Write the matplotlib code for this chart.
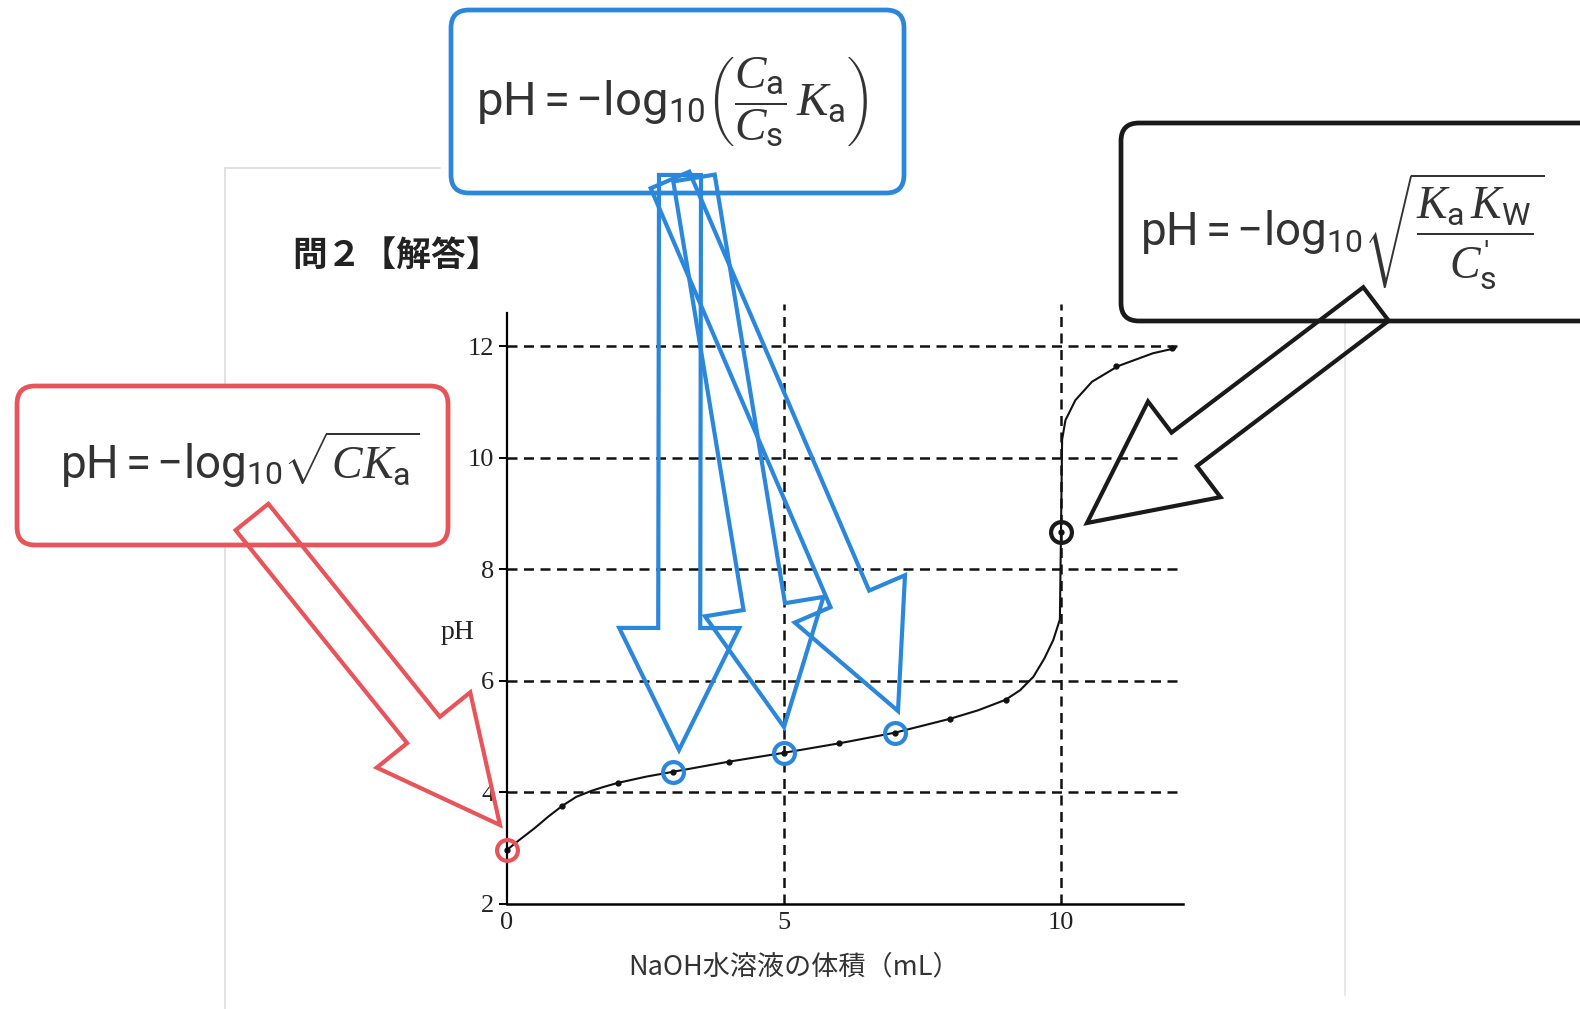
import numpy as np
import matplotlib
matplotlib.use("Agg")
import matplotlib.pyplot as plt
from matplotlib.patches import FancyBboxPatch, Polygon

plt.rcParams['font.family'] = ['Noto Sans CJK JP', 'DejaVu Sans']
plt.rcParams['mathtext.fontset'] = 'custom'
plt.rcParams['mathtext.rm'] = 'Roboto'
plt.rcParams['mathtext.it'] = 'Liberation Serif:italic'
plt.rcParams['mathtext.bf'] = 'Roboto:bold'

# measured points: volume of NaOH added (mL) and pH
vol = [0, 1, 2, 3, 4, 5, 6, 7, 8, 9, 10, 11, 12]
ph = [2.97, 3.76, 4.17, 4.37, 4.55, 4.71, 4.88, 5.07, 5.32, 5.66, 8.67, 11.64, 11.96]

# titration curve
curve_vol = [0, 0.2, 0.5, 0.75, 1.0, 1.25, 1.53, 1.75, 2.0, 2.5, 3.0, 4.0, 5.0, 6.0,
             7.0, 8.0, 8.5, 9.0, 9.26, 9.5, 9.7, 9.86, 9.98, 10.0, 10.02, 10.08,
             10.26, 10.56, 11.03, 11.66, 12.06]
curve_ph = [2.97, 3.13, 3.36, 3.57, 3.76, 3.92, 4.03, 4.1, 4.17, 4.28, 4.37, 4.55, 4.71,
            4.88, 5.07, 5.32, 5.47, 5.66, 5.83, 6.07, 6.4, 6.73, 7.1, 8.67, 10.32,
            10.67, 11.03, 11.36, 11.64, 11.87, 11.96]

# points that are circled, with the colour of their note
circled_vol = [0, 3, 5, 7, 10]
circled_color = ['#e8545a', '#2b87dc', '#2b87dc', '#2b87dc', '#1a1a1a']

yticks = [2, 4, 6, 8, 10, 12]
xticks = [0, 5, 10]
grid_y = [4, 6, 8, 10, 12]
grid_x = [5, 10]

RED = '#e8545a'
BLUE = '#2b87dc'
BLACK = '#1a1a1a'

W, H = 1580, 1009
fig = plt.figure(figsize=(W / 100, H / 100), dpi=100)

# ---- chart ----
ax = fig.add_axes([507 / W, 1 - 904 / H, 12.2 * 55.4 / W, 10.8 * 55.8 / H], zorder=2)
ax.patch.set_visible(False)
ax.set_xlim(0, 12.2)
ax.set_ylim(2, 12.8)
for s in ['top', 'right']:
    ax.spines[s].set_visible(False)
ax.spines['left'].set_bounds(2, 12.6)
ax.spines['left'].set_linewidth(1.6)
ax.spines['bottom'].set_linewidth(1.8)

for y in grid_y:
    ax.plot([0, 12.1], [y, y], color='#111111', lw=1.8, ls=(0, (4, 2.6)))
for x in grid_x:
    ax.plot([x, x], [2, 12.75], color='#111111', lw=1.8, ls=(0, (4, 2.6)))

ax.plot(curve_vol, curve_ph, color='#111111', lw=1.5, clip_on=False)
ax.plot(vol, ph, 'o', color='#111111', ms=3.5, clip_on=False)
for v, c in zip(circled_vol, circled_color):
    ax.plot(v, ph[vol.index(v)], 'o', mfc='none', mec=c, ms=15, mew=3,
            clip_on=False, zorder=4)

ax.set_yticks(yticks)
ax.set_xticks(xticks)
ax.tick_params(axis='y', direction='out', length=6, width=1.4, pad=3)
ax.tick_params(axis='x', length=0, pad=6)
for lab in ax.get_xticklabels() + ax.get_yticklabels():
    lab.set_fontfamily('Liberation Serif')
    lab.set_fontsize(19)
    lab.set_color('#222222')

ax.set_ylabel('pH', rotation=0, fontfamily='Liberation Serif', fontsize=20,
              color='#222222', ha='center', va='center')
ax.yaxis.set_label_coords(-0.0725, 0.451)
ax.set_xlabel('NaOH水溶液の体積（mL）', fontsize=19.5, color='#333333',
              ha='center', va='center')
ax.xaxis.set_label_coords(0.425, -0.1045)

# ---- annotations, drawn in pixel coordinates ----
ov = fig.add_axes([0, 0, 1, 1], zorder=3)
ov.set_xlim(0, W)
ov.set_ylim(H, 0)
ov.axis('off')

bg = fig.add_axes([0, 0, 1, 1], zorder=1)
bg.set_xlim(0, W)
bg.set_ylim(H, 0)
bg.axis('off')
# faint edges of the scanned page
bg.plot([225, 225], [168, 1009], color='#dddddd', lw=1.2)
bg.plot([225, 440], [168, 168], color='#dddddd', lw=1.2)
bg.plot([1345, 1345], [317, 995], color='#e3e3e3', lw=1.2)

bg.text(292, 255, '問２【解答】', fontsize=25, fontweight='bold', color='#222222',
        ha='left', va='center')


def box(x0, y0, x1, y1, color):
    ov.add_patch(FancyBboxPatch((x0, y0), x1 - x0, y1 - y0,
                                boxstyle='round,pad=0,rounding_size=18',
                                fc='white', ec=color, lw=3.4))


def block_arrow(tail, tip, color, shaft_w=42, head_w=120, head_len=122):
    tail = np.array(tail, float)
    tip = np.array(tip, float)
    d = tip - tail
    u = d / np.hypot(*d)
    n = np.array([-u[1], u[0]])
    base = tip - u * head_len
    pts = [tail + n * shaft_w / 2, base + n * shaft_w / 2, base + n * head_w / 2, tip,
           base - n * head_w / 2, base - n * shaft_w / 2, tail - n * shaft_w / 2]
    ov.add_patch(Polygon(pts, closed=True, fill=False, ec=color, lw=3,
                         joinstyle='miter'))


box(451, 10, 904, 193, BLUE)
box(17, 386, 448, 545, RED)
box(1121, 123, 1620, 321, BLACK)

fcol = '#333333'
ov.text(476, 102, r'$\mathrm{pH}=-\mathrm{log}_{10}\left(\dfrac{C_\mathrm{a}}{C_\mathrm{s}}\,K_\mathrm{a}\right)$',
        fontsize=34, color=fcol, ha='left', va='center')
ov.text(60, 460, r'$\mathrm{pH}=-\mathrm{log}_{10}\sqrt{CK_\mathrm{a}}$',
        fontsize=33, color=fcol, ha='left', va='center')
ov.text(1140, 232, r'$\mathrm{pH}=-\mathrm{log}_{10}\sqrt{\dfrac{K_\mathrm{a}\,K_\mathrm{W}}{C_\mathrm{s}^{\prime}}}$',
        fontsize=33, color=fcol, ha='left', va='center')

block_arrow((252, 517), (500, 825), RED)
block_arrow((680, 175), (679, 750), BLUE)
block_arrow((694, 178), (784, 727), BLUE)
block_arrow((670, 180), (898, 711), BLUE)
block_arrow((1376, 304), (1087, 523), BLACK)

fig.savefig('out.png', dpi=100)
